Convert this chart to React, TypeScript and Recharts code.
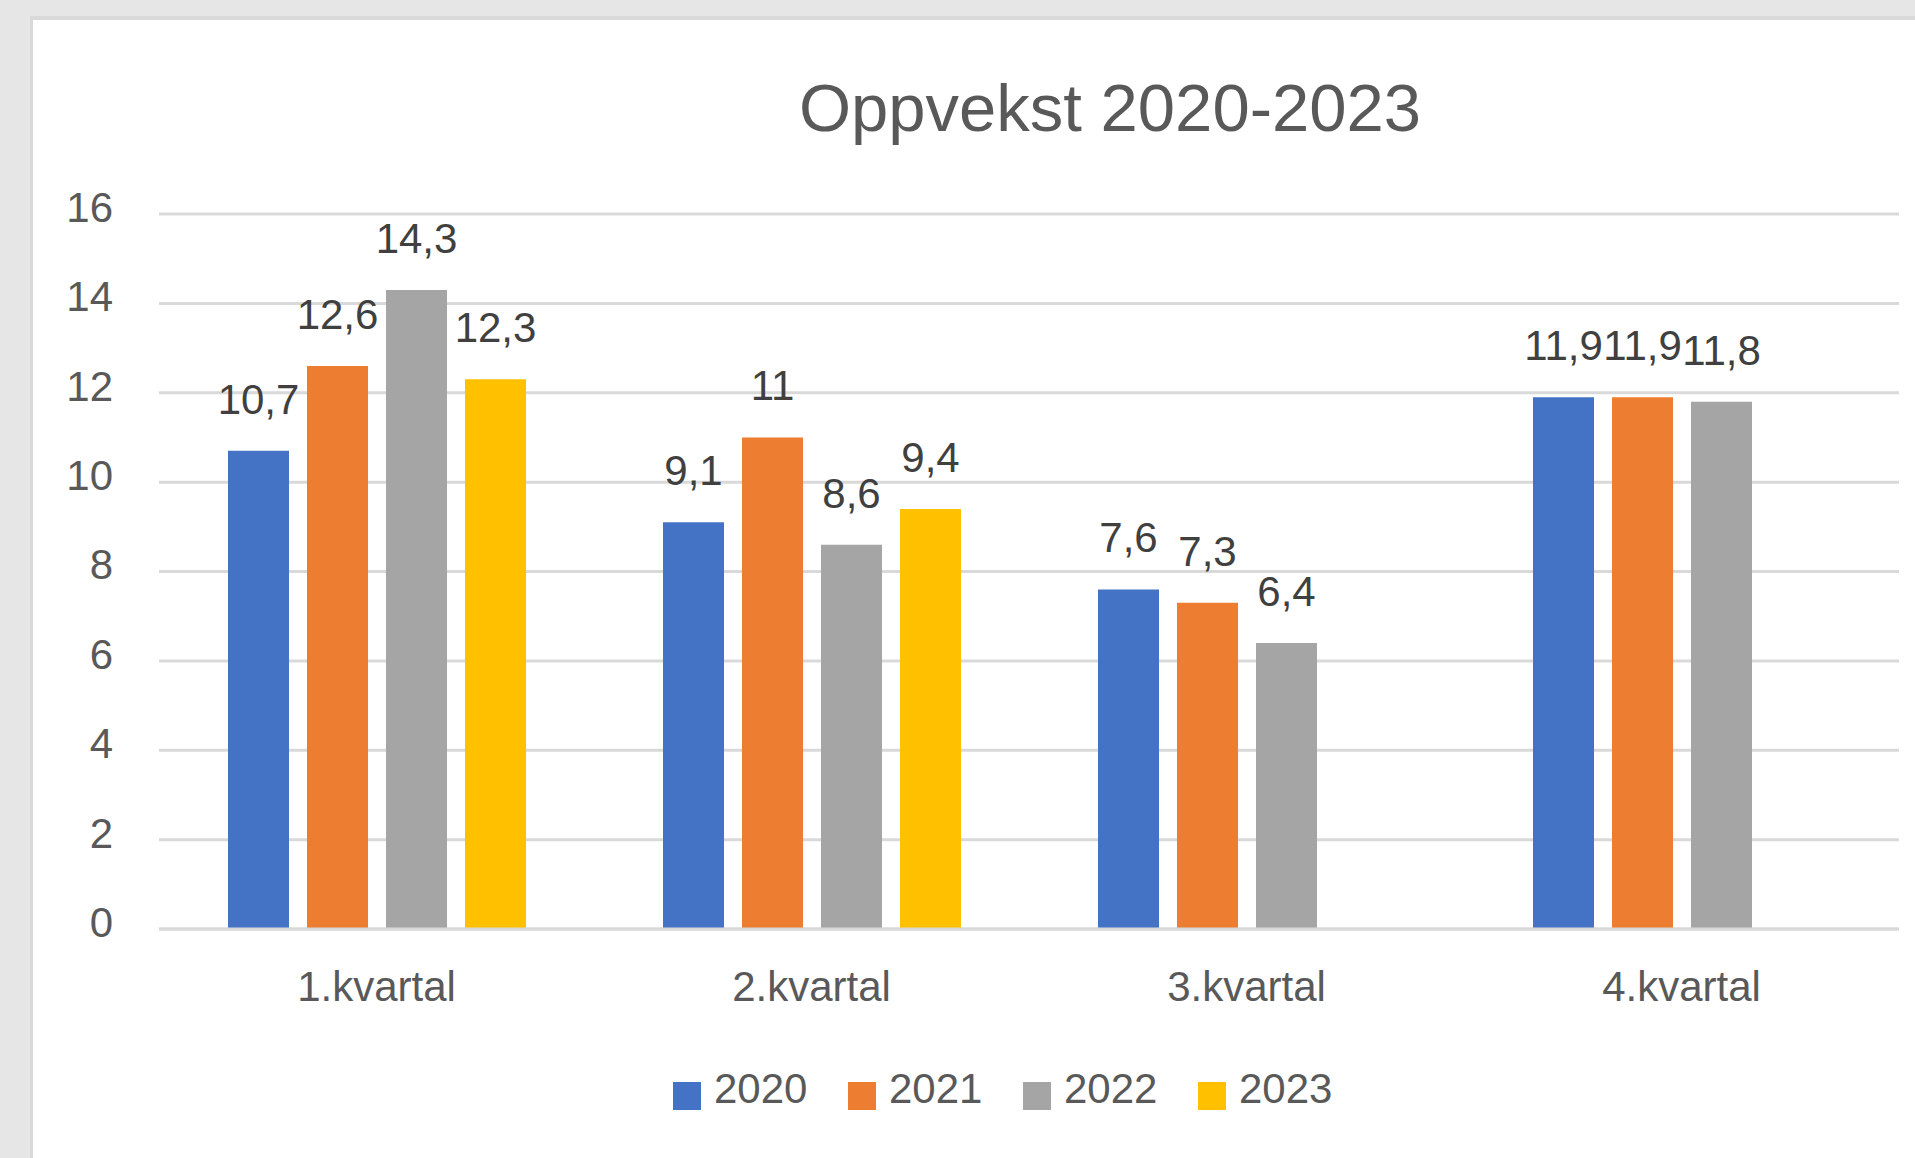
import { BarChart, Bar, XAxis, YAxis, CartesianGrid, LabelList, Legend } from 'recharts';

// Oppvekst 2020-2023, per kvartal
const quarters = ['1.kvartal', '2.kvartal', '3.kvartal', '4.kvartal'];
const years = ['2020', '2021', '2022', '2023'];
const colors = ['#4472C4', '#ED7D31', '#A5A5A5', '#FFC000'];

const v2020 = [10.7, 9.1, 7.6, 11.9];
const v2021 = [12.6, 11, 7.3, 11.9];
const v2022 = [14.3, 8.6, 6.4, 11.8];
const v2023: (number | null)[] = [12.3, 9.4, null, null];

const yTicks = [0, 2, 4, 6, 8, 10, 12, 14, 16];

const series = [v2020, v2021, v2022, v2023];

const chartData = quarters.map((q, i) => {
    const row: Record<string, string | number | null> = { quarter: q };
    years.forEach((y, s) => {
        row[y] = series[s][i];
    });
    return row;
});

const FONT = '"Liberation Sans", Arial, sans-serif';
const TEXT = '#595959';
const GRID = '#d9d9d9';

const fmt = (v: unknown) => (v === null || v === undefined ? '' : String(v).replace('.', ','));

function LegendContent() {
    return (
        <div style={{ display: 'flex', fontFamily: FONT, fontSize: 42, lineHeight: '42px', color: TEXT }}>
            {years.map((y, i) => (
                <div key={y} style={{ display: 'flex', alignItems: 'flex-start', width: 175 }}>
                    <span style={{ width: 28, height: 28, marginTop: 14, background: colors[i], marginRight: 13 }} />
                    <span>{y}</span>
                </div>
            ))}
        </div>
    );
}

export default function App() {
    return (
        <div style={{ position: 'fixed', inset: 0, background: '#e6e6e6', overflow: 'hidden' }}>
            <div
                style={{
                    position: 'absolute',
                    left: 30,
                    top: 16,
                    right: -20,
                    bottom: -20,
                    background: '#ffffff',
                    borderLeft: `3px solid ${GRID}`,
                    borderTop: `4px solid ${GRID}`,
                }}
            />
            <svg width={1915} height={200} style={{ position: 'absolute', left: 0, top: 0 }}>
                <text x={1110} y={131} textAnchor="middle" fontFamily={FONT} fontSize={67} fill={TEXT}>
                    Oppvekst 2020-2023
                </text>
            </svg>
            <div style={{ position: 'absolute', left: 0, top: 0 }}>
                <BarChart
                    width={1915}
                    height={1158}
                    data={chartData}
                    margin={{ top: 214, right: 16, bottom: 0, left: 0 }}
                    barCategoryGap={69}
                    barGap={18}
                >
                    <CartesianGrid vertical={false} stroke={GRID} strokeWidth={3} />
                    <XAxis
                        dataKey="quarter"
                        height={229}
                        tickLine={false}
                        tickSize={0}
                        tickMargin={42}
                        axisLine={{ stroke: GRID, strokeWidth: 3 }}
                        tick={{ fontSize: 42, fill: TEXT, fontFamily: FONT }}
                    />
                    <YAxis
                        width={159}
                        domain={[0, 16]}
                        ticks={yTicks}
                        interval={0}
                        axisLine={false}
                        tickLine={false}
                        tickSize={0}
                        tickMargin={46}
                        tick={{ fontSize: 42, fill: TEXT, fontFamily: FONT, dy: -7 }}
                    />
                    <Legend
                        layout="horizontal"
                        verticalAlign="middle"
                        align="center"
                        content={() => <LegendContent />}
                        wrapperStyle={{ position: 'absolute', left: 673, top: 1068, width: 720, height: 50 }}
                    />
                    {years.map((y, i) => (
                        <Bar key={y} dataKey={y} fill={colors[i]} isAnimationActive={false}>
                            <LabelList
                                dataKey={y}
                                position="top"
                                offset={37}
                                formatter={fmt}
                                style={{ fontSize: 42, fill: '#404040', fontFamily: FONT }}
                            />
                        </Bar>
                    ))}
                </BarChart>
            </div>
        </div>
    );
}
